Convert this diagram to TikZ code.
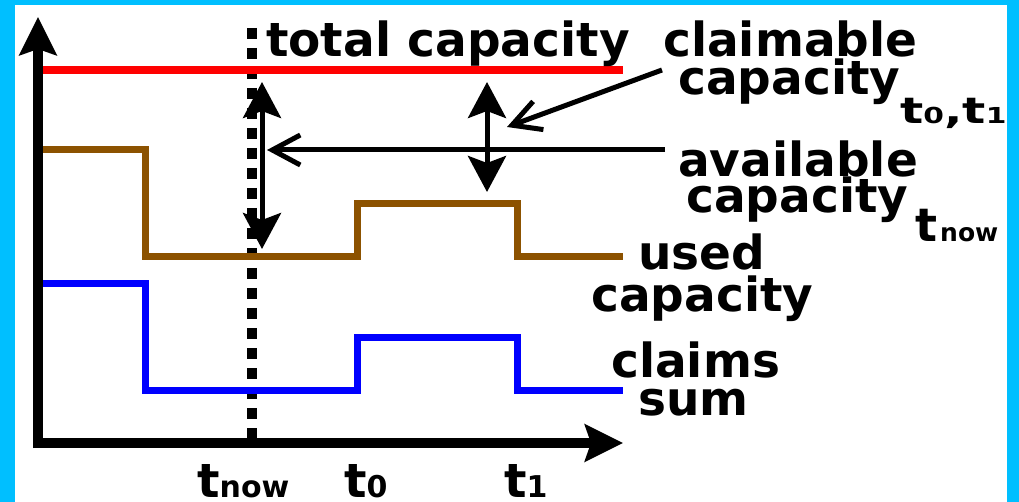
\documentclass[tikz,border=0pt]{standalone}
\usepackage{fontspec}
\setmainfont{DejaVu Sans}
\usetikzlibrary{arrows.meta}
\definecolor{bordercyan}{RGB}{0,191,255}
\definecolor{usedbrown}{RGB}{140,82,0}
\newcommand{\fs}[1]{\fontsize{#1}{#1}\selectfont}
\begin{document}
\begin{tikzpicture}[x=1pt,y=-1pt,
  lbl/.style={inner sep=0pt, anchor=base west, font=\fs{47}\bfseries},
  axisline/.style={line width=10pt, -{Stealth[length=38pt,width=37pt,inset=6pt]}},
  dbl/.style={line width=5pt, {Stealth[length=36pt,width=38pt,inset=7pt]}-{Stealth[length=36pt,width=38pt,inset=7pt]}},
  pointer/.style={line width=5pt, -{Straight Barb[length=28pt,width=30pt]}},
  curve/.style={line width=8pt}
]
% background and border
\fill[bordercyan] (0,0) rectangle (1019,502);
\fill[white] (15,5) rectangle (1007,502);
\useasboundingbox (0,0) rectangle (1019,502);

% coordinates
\coordinate (ybot) at (38,448);
\coordinate (ytop) at (38,17);
\coordinate (xleft) at (33,443);
\coordinate (xright) at (623,443);
\coordinate (nowtop) at (252,28);
\coordinate (nowbot) at (252,438);
\coordinate (redL) at (38,70);
\coordinate (redR) at (623,70);
\coordinate (bA) at (38,150);
\coordinate (bB) at (145,257);
\coordinate (bC) at (357,204);
\coordinate (bD) at (517,257);
\coordinate (bE) at (623,257);
\coordinate (cA) at (38,284);
\coordinate (cB) at (145,390);
\coordinate (cC) at (357,337);
\coordinate (cD) at (517,390);
\coordinate (cE) at (623,390);
\coordinate (d1t) at (262,82);
\coordinate (d1b) at (262,249);
\coordinate (d2t) at (487,82);
\coordinate (d2b) at (487,192);
\coordinate (hS) at (665,150);
\coordinate (hE) at (267,150);
\coordinate (gS) at (662,70);
\coordinate (gE) at (507,127);

% t_now dotted line
\draw[line width=10pt, dash pattern=on 11pt off 9pt] (nowtop) -- (nowbot);

% capacity lines
\draw[curve, red] (redL) -- (redR);
\draw[curve, usedbrown, line width=7pt] (bA) -| (bB) -| (bC) -| (bD) -- (bE);
\draw[curve, blue, line width=7pt] (cA) -| (cB) -| (cC) -| (cD) -- (cE);

% axes
\draw[axisline] (ybot) -- (ytop);
\draw[axisline] (xleft) -- (xright);

% arrows
\draw[dbl] (d1t) -- (d1b);
\draw[dbl] (d2t) -- (d2b);
\draw[pointer] (hS) -- (hE);
\draw[pointer] (gS) -- (gE);

% labels
\node[lbl] (total) at (266,57) {total capacity};
\node[lbl] (claimable) at (663,57) {claimable};
\node[lbl] (cap1) at (678,95) {capacity\raisebox{-29pt}{\scalebox{1.35}[1]{\fs{36}t\fs{22}0\fs{36},t\fs{22}1}}};
\node[lbl] (avail) at (678,177) {available};
\node[lbl] (cap2) at (686,213) {capacity\kern7pt\raisebox{-29pt}{\fs{46}t\kern3pt\fs{25}now}};
\node[lbl] (used) at (638,270) {used};
\node[lbl] (cap3) at (591,312) {capacity};
\node[lbl] (claims) at (611,377) {claims};
\node[lbl] (sum) at (638,415) {sum};
\node[lbl] (tnow) at (197,497) {t\fs{30}now};
\node[lbl] (tzero) at (344,497) {t\fs{30}0};
\node[lbl] (tone) at (504,497) {t\fs{30}1};
\end{tikzpicture}
\end{document}
